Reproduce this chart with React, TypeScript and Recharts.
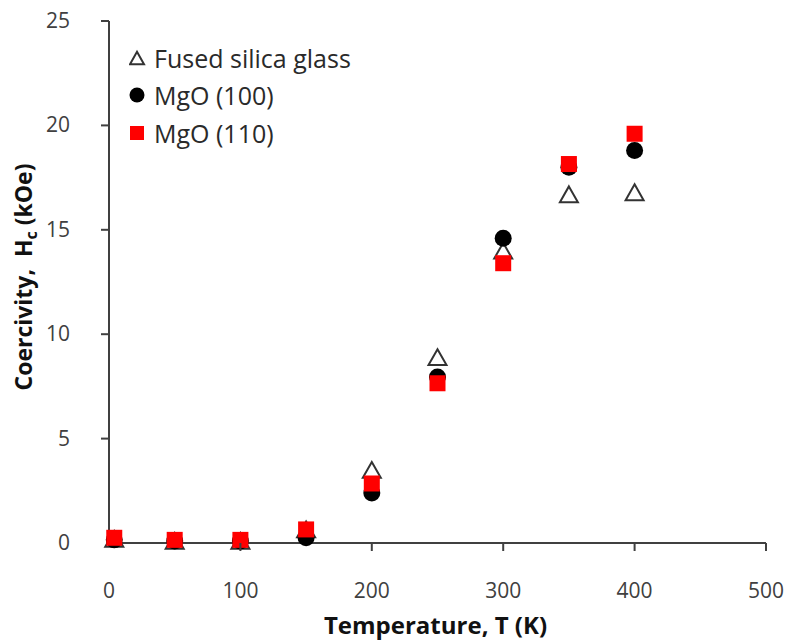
import { ScatterChart, Scatter, XAxis, YAxis } from "recharts";

const temps = [4, 50, 100, 150, 200, 250, 300, 350, 400];
const silica = [0.2, 0.1, 0.1, 0.65, 3.5, 8.9, 14.0, 16.7, 16.8];
const mgo100 = [0.15, 0.1, 0.1, 0.25, 2.4, 7.95, 14.6, 18.0, 18.8];
const mgo110 = [0.25, 0.15, 0.15, 0.65, 2.85, 7.65, 13.4, 18.15, 19.6];

const xTicks = [0, 100, 200, 300, 400, 500];
const yTicks = [0, 5, 10, 15, 20, 25];

const toPoints = (ys: number[]) => temps.map((t, i) => ({ t, hc: ys[i] }));

const AXIS = "#404040";
const FONT = "'Open Sans', 'Liberation Sans', sans-serif";

const Triangle = ({ cx, cy, s = 18 }: any) => {
  const h = s * 0.88;
  return (
    <path
      d={`M${cx},${cy - h / 2} L${cx + s / 2},${cy + h / 2} L${cx - s / 2},${cy + h / 2} Z`}
      fill="#fff"
      stroke="#333"
      strokeWidth={2}
    />
  );
};
const Circle = ({ cx, cy, r = 8.5 }: any) => <circle cx={cx} cy={cy} r={r} fill="#000" />;
const Square = ({ cx, cy, s = 16 }: any) => (
  <rect x={cx - s / 2} y={cy - s / 2} width={s} height={s} fill="#ff0000" />
);

const XTick = ({ x, y, payload }: any) => (
  <g>
    {payload.value !== 0 && <line x1={x} x2={x} y1={y} y2={y - 8} stroke={AXIS} strokeWidth={2} />}
    <text x={x} y={y + 47} textAnchor="middle" fontSize={21} fill="#404040" fontFamily={FONT}>
      {payload.value}
    </text>
  </g>
);

const YTick = ({ x, y, payload }: any) => (
  <g>
    {payload.value !== 0 && <line x1={x} x2={x + 8} y1={y} y2={y} stroke={AXIS} strokeWidth={2} />}
    <text x={x - 31} y={y + 7} textAnchor="end" fontSize={21} fill="#404040" fontFamily={FONT}>
      {payload.value}
    </text>
  </g>
);

const legendItems = [
  { name: "Fused silica glass", icon: <Triangle cx={8} cy={10} s={14} /> },
  { name: "MgO (100)", icon: <Circle cx={8} cy={10} r={7.5} /> },
  { name: "MgO (110)", icon: <Square cx={8} cy={10} s={14} /> },
];

export default function App() {
  return (
    <div style={{ position: "absolute", left: 0, top: 0, width: 791, height: 643, background: "#fff" }}>
      <ScatterChart width={791} height={643} margin={{ top: 21, right: 25, bottom: 0, left: 0 }}>
        <XAxis
          type="number"
          dataKey="t"
          domain={[0, 500]}
          ticks={xTicks}
          tick={<XTick />}
          tickLine={false}
          stroke={AXIS}
          strokeWidth={2}
          height={100}
          label={(props: any) => {
            const vb = props.viewBox;
            return (
              <text
                x={vb.x + vb.width / 2 - 2}
                y={634}
                textAnchor="middle"
                fontFamily={FONT}
                fontSize={24}
                fontWeight={700}
                fill="#111"
              >
                Temperature, T (K)
              </text>
            );
          }}
        />
        <YAxis
          type="number"
          dataKey="hc"
          domain={[0, 25]}
          ticks={yTicks}
          tick={<YTick />}
          tickLine={false}
          stroke={AXIS}
          strokeWidth={2}
          width={109}
          label={() => {
            const cx = 32;
            const cy = 277;
            return (
              <text
                x={cx}
                y={cy}
                transform={`rotate(-90, ${cx}, ${cy})`}
                textAnchor="middle"
                fontFamily={FONT}
                fontSize={23}
                fontWeight={700}
                fill="#111"
              >
                Coercivity,{"\u00a0\u00a0"}H
                <tspan fontSize={16} dy={5}>c</tspan>
                <tspan dy={-5}> (kOe)</tspan>
              </text>
            );
          }}
        />
        <Scatter name="Fused silica glass" data={toPoints(silica)} shape={<Triangle />} isAnimationActive={false} />
        <Scatter name="MgO (100)" data={toPoints(mgo100)} shape={<Circle />} isAnimationActive={false} />
        <Scatter name="MgO (110)" data={toPoints(mgo110)} shape={<Square />} isAnimationActive={false} />
      </ScatterChart>
      <div style={{ position: "absolute", left: 129, top: 39, fontFamily: FONT, fontSize: 25, color: "#2a2a2a" }}>
        {legendItems.map((it) => (
          <div key={it.name} style={{ display: "flex", alignItems: "center", height: 37.5 }}>
            <svg width={18} height={20} style={{ marginRight: 7 }}>
              {it.icon}
            </svg>
            <span>{it.name}</span>
          </div>
        ))}
      </div>
    </div>
  );
}
